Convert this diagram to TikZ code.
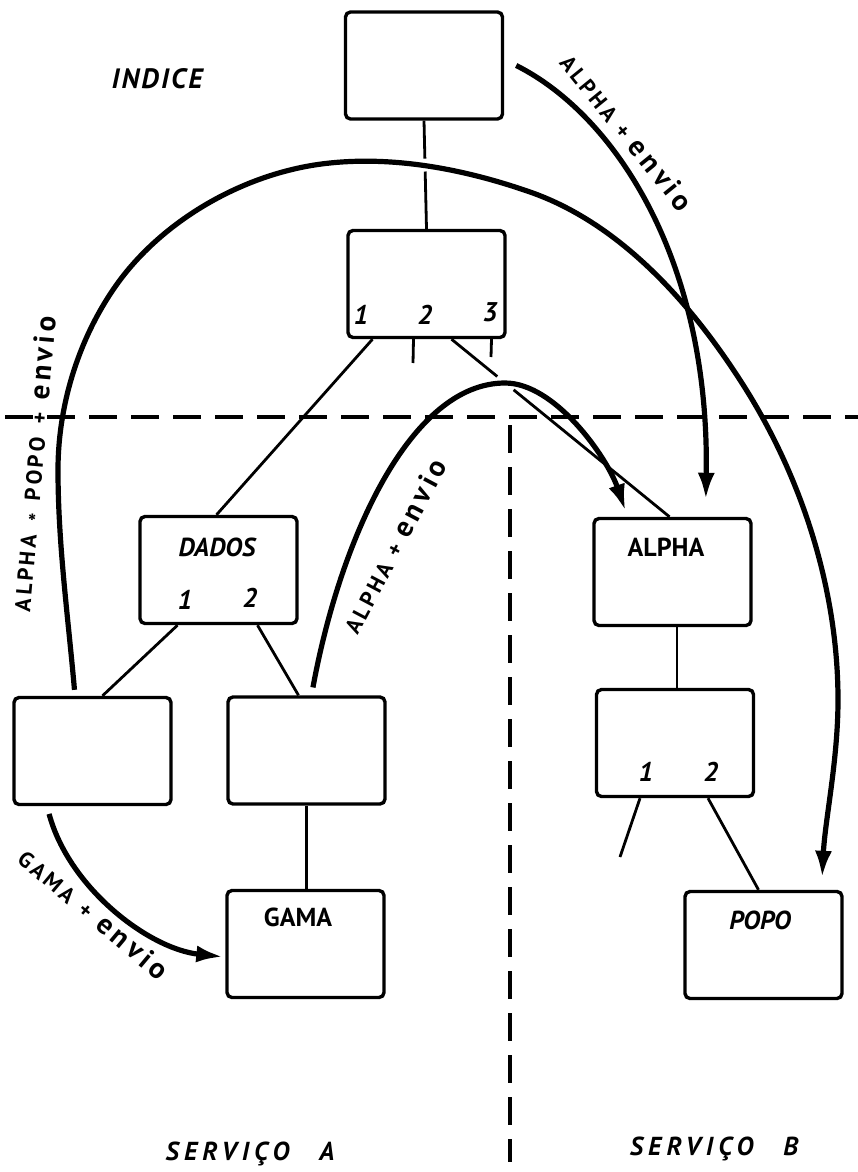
\documentclass[tikz,border=0pt]{standalone}
\usepackage{fontspec}
\setmainfont{PT Sans}
\usetikzlibrary{arrows.meta,calc}
\newcommand{\envword}{{\fontsize{29}{30}\selectfont envio}}
\begin{document}
\begin{tikzpicture}[x=1pt,y=-1pt,
  box/.style={draw,line width=3.4pt,rounded corners=5pt,inner sep=0pt,minimum width=157pt,minimum height=107pt},
  thin/.style={line width=2.8pt},
  arc/.style={line width=5.2pt,-{Latex[length=27pt,width=17pt]}},
  dashline/.style={line width=3.2pt,dash pattern=on 28pt off 14pt},
  blab/.style={font=\bfseries\fontsize{26}{30}\selectfont},
  slab/.style={font=\bfseries\itshape\fontsize{26}{30}\selectfont},
  num/.style={font=\bfseries\itshape\fontsize{27}{30}\selectfont},
  alab/.style={font=\bfseries\fontsize{22}{26}\selectfont\addfontfeature{LetterSpace=14}},
]
\useasboundingbox (0,0) rectangle (858,1172);

% boxes
\node[box] (top) at (424,65.5) {};
\node[box] (idx) at (426.5,284) {};
\node[box] (dados) at (218.5,570) {};
\node[box] (lb) at (92.5,751) {};
\node[box] (mb) at (306.5,750.5) {};
\node[box] (gama) at (305.5,944) {};
\node[box] (alpha) at (672.5,572) {};
\node[box] (bb) at (675,743) {};
\node[box] (popo) at (763.5,945) {};

% texts
\node[slab,font=\bfseries\itshape\fontsize{28}{32}\selectfont\addfontfeature{LetterSpace=8}] (tindice) at (157,79) {INDICE};
\node[num] (i1) at (361,315) {1};
\node[num] (i2) at (425,315) {2};
\node[num] (i3) at (490,312) {3};
\node[slab] (tdados) at (217,547) {DADOS};
\node[num] (d1) at (185,600) {1};
\node[num] (d2) at (250,598) {2};
\node[blab] (talpha) at (666,547) {ALPHA};
\node[num] (b1) at (646,772) {1};
\node[num] (b2) at (711,772) {2};
\node[blab] (tgama) at (298,917) {GAMA};
\node[slab] (tpopo) at (760,920) {POPO};
\node[slab,font=\bfseries\itshape\fontsize{26}{30}\selectfont\addfontfeature{LetterSpace=20},anchor=base] (sa) at (250,1160) {SERVIÇO\hspace{30pt}A};
\node[slab,font=\bfseries\itshape\fontsize{26}{30}\selectfont\addfontfeature{LetterSpace=20},anchor=base] (sb) at (714,1155) {SERVIÇO\hspace{30pt}B};

% dashed separators
\coordinate (hl) at (5,417);
\coordinate (hr) at (858,417);
\coordinate (vt) at (510,425);
\coordinate (vb) at (510,1162);
\draw[dashline] (hl) -- (hr);
\draw[dashline] (vt) -- (vb);

% thin connectors
\draw[thin] (top.south) -- ($(top.south)!0.35!(idx.north)$);
\draw[thin] ($(top.south)!0.47!(idx.north)$) -- (idx.north);
\draw[thin] ($(idx.south)+(-54,0)$) -- ($(dados.north)+(-2,0)$);
\coordinate (s2) at (413,363);
\draw[thin] ($(idx.south)+(-13,0)$) -- (s2);
\coordinate (s3) at (491,357);
\draw[thin] ($(idx.south)+(65,0)$) -- (s3);
\coordinate (ia) at ($(idx.south)+(25,0)$);
\coordinate (ai) at ($(alpha.north)+(-3,0)$);
\draw[thin] (ia) -- ($(ia)!0.21!(ai)$);
\draw[thin] ($(ia)!0.285!(ai)$) -- (ai);
\draw[thin] ($(dados.south)+(-41,0)$) -- ($(lb.north)+(10,0)$);
\draw[thin] ($(dados.south)+(39,0)$) -- ($(mb.north)+(-8,0)$);
\draw[thin] (mb.south) -- (mb.south |- gama.north);
\draw[thin] ($(alpha.south)+(4.5,0)$) -- ($(bb.north)+(2,0)$);
\coordinate (s4) at (620,857);
\draw[thin] ($(bb.south)+(-35,0)$) -- (s4);
\draw[thin] ($(bb.south)+(33,0)$) -- ($(popo.north)+(-5,0)$);

% thick arrows
\draw[arc, shorten >=17pt] ($(top.east)+(12,0)$) .. controls (615,115) and (710,260) .. ($(alpha.north)+(33,0)$);
\draw[arc, shorten <=6pt, shorten >=12pt] ($(lb.north)+(-17.5,0)$)
  .. controls (68,616) and (58,544) .. (58,470)
  .. controls (58,403) and (80,334) .. (120,280)
  .. controls (168,216) and (250,171) .. (330,163)
  .. controls (397,156) and (467,170) .. (530,192)
  .. controls (619,223) and (689,301) .. (740,380)
  .. controls (801,474) and (838,588) .. (838,700)
  .. controls (838,760) and (825,820) .. ($(popo.north)+(58,0)$);
\draw[arc, shorten <=8pt, shorten >=6pt] ($(mb.north)+(5,0)$)
  .. controls (340,540) and (410,383) .. (505,383)
  .. controls (555,383) and (607,457) .. ($(alpha.north)+(-45,0)$);
\draw[arc, shorten <=8pt, shorten >=2pt] ($(lb.south)+(-45.5,0)$) .. controls (69,888) and (149,949) .. ($(gama.west)+(0,13)$);

% arrow labels
\node[alab,rotate=-51] (l1) at (627,132) {ALPHA\hspace{10pt}+\hspace{10pt}\envword};
\node[alab,rotate=85] (l2) at (36,464) {ALPHA\hspace{14pt}\raisebox{-0.3em}{*}\hspace{12pt}POPO\hspace{14pt}+\hspace{12pt}\envword};
\node[alab,rotate=62] (l3) at (394,546) {ALPHA\hspace{10pt}+\hspace{10pt}\envword};
\node[alab,rotate=-40] (l4) at (94,914) {GAMA\hspace{12pt}+\hspace{12pt}\envword};
\end{tikzpicture}
\end{document}
